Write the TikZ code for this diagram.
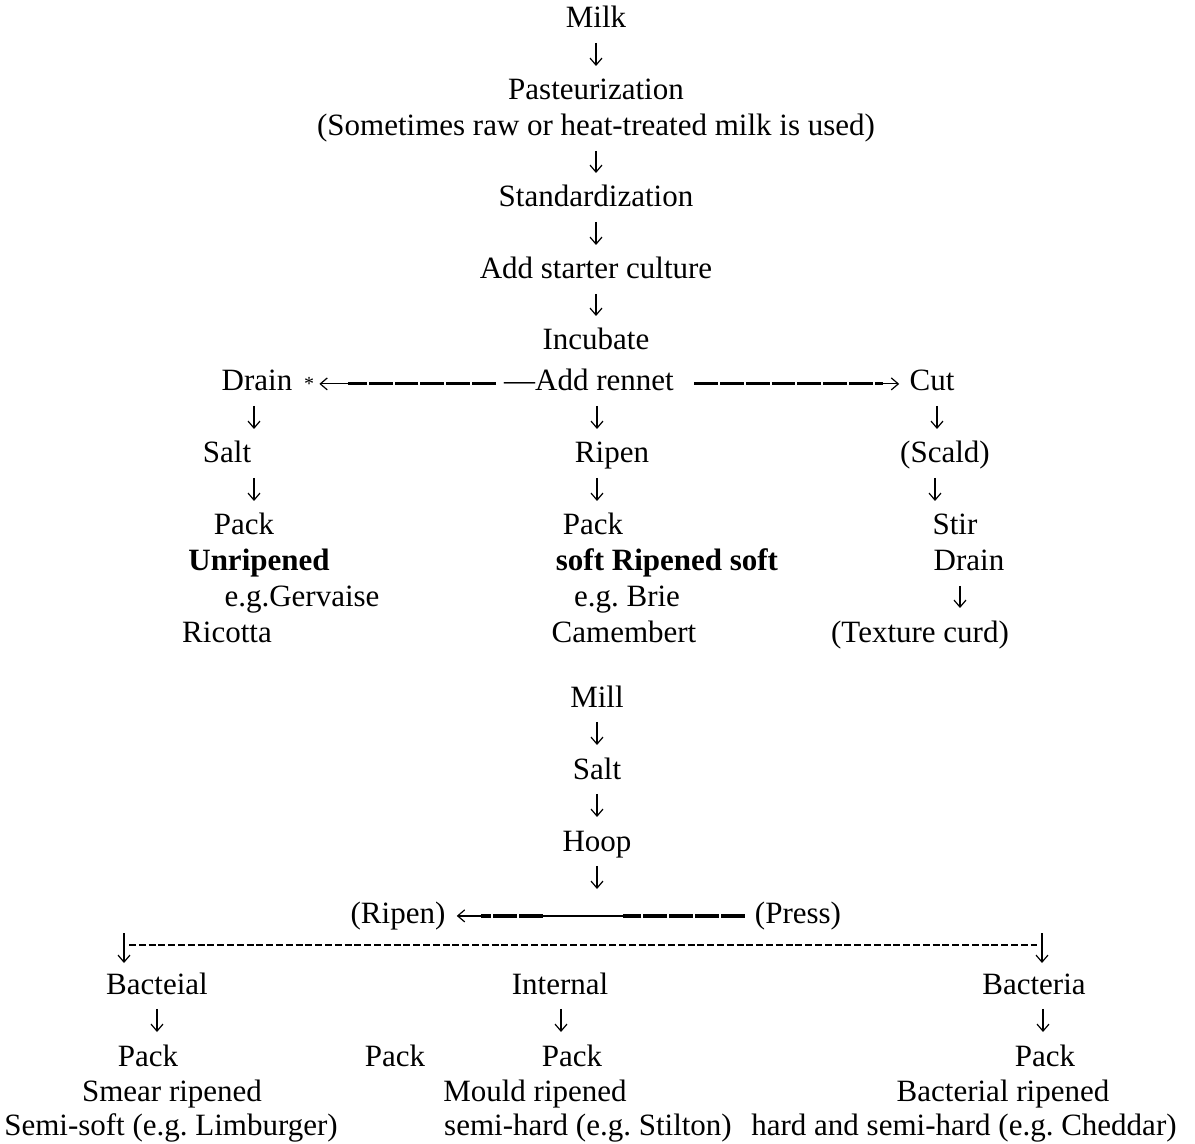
\documentclass[tikz,border=0pt]{standalone}
\usepackage{fontspec}
\setmainfont{Liberation Serif}
\usepackage{tikz}
\usetikzlibrary{arrows.meta,calc}
\frenchspacing

\begin{document}
\begin{tikzpicture}[
    x=0.5pt, y=-0.5pt,
    txt/.style={font=\fontsize{15.5}{18}\selectfont, inner sep=0pt, text height=10.3pt, text depth=3.2pt, anchor=base},
    harr/.style={-{Straight Barb[length=3.5pt,width=6pt]}, line width=0.6pt},
    arr/.style={harr, shorten <=4pt, shorten >=6.5pt},
    heavy/.style={line width=1.6pt, dash pattern=on 11.9pt off 1pt},
    dotline/.style={line width=1.1pt, dash pattern=on 3.5pt off 1.4pt}
]
\useasboundingbox (0,0) rectangle (1195,1144);

% Main line
\node[txt] (milk) at (596,28) {Milk};
\node[txt] (past) at (596,100) {Pasteurization};
\node[txt] (note) at (596,136) {(Sometimes raw or heat-treated milk is used)};
\node[txt] (std) at (596,207) {Standardization};
\node[txt] (starter) at (596,279) {Add starter culture};
\node[txt] (incub) at (596,350) {Incubate};

\draw[arr] (milk) -- (past);
\draw[arr] (note) -- (std);
\draw[arr] (std) -- (starter);
\draw[arr] (starter) -- (incub);

% Rennet split
\node[txt] (drain) at (257,391) {Drain};
\node[txt] (star) at (309,391) {\fontsize{10}{10}\selectfont *};
\node[txt] (rennet) at (589,391) {—Add rennet};
\node[txt] (cut) at (932,391) {Cut};

\coordinate (lstop) at ([xshift=17pt]star.east);
\draw[heavy] ([xshift=-4pt]rennet.west) -- (lstop);
\draw[harr, shorten >=2.5pt] (lstop) -- (star);
\coordinate (rstop) at ([xshift=-13pt]cut.west);
\draw[heavy] ([xshift=10pt]rennet.east) -- (rstop);
\draw[harr, shorten >=5pt] (rstop) -- (cut);

% Unripened branch
\node[txt] (salt1) at (227,463) {Salt};
\node[txt] (pack1) at (244,535) {Pack};
\node[txt, font=\fontsize{15.5}{18}\selectfont\bfseries] (unrip) at (259,571) {Unripened};
\node[txt] (gerv) at (302,607) {e.g.Gervaise};
\node[txt] (ricot) at (227,642) {Ricotta};

\draw[arr] ([xshift=-1.5pt]drain.south) -- ([xshift=-1.5pt]drain.south |- salt1.north);
\draw[arr] ([xshift=13.5pt]salt1.south) -- ([xshift=13.5pt]salt1.south |- pack1.north);

% Ripened soft branch
\node[txt] (ripen1) at (612,463) {Ripen};
\node[txt] (pack2) at (593,535) {Pack};
\node[txt, font=\fontsize{15.5}{18}\selectfont\bfseries] (softrip) at (667,571) {soft Ripened soft};
\node[txt] (brie) at (627,607) {e.g. Brie};
\node[txt] (camem) at (624,642) {Camembert};

\draw[arr] ([xshift=4pt]rennet.south) -- ([xshift=4pt]rennet.south |- ripen1.north);
\draw[arr] ([xshift=-7.5pt]ripen1.south) -- ([xshift=-7.5pt]ripen1.south |- pack2.north);

% Cut branch
\node[txt] (scald) at (945,463) {(Scald)};
\node[txt] (stir) at (955,535) {Stir};
\node[txt] (drain2) at (969,571) {Drain};
\node[txt] (texture) at (920,642) {(Texture curd)};

\draw[arr] ([xshift=2.5pt]cut.south) -- ([xshift=2.5pt]cut.south |- scald.north);
\draw[arr] ([xshift=-5pt]scald.south) -- ([xshift=-5pt]scald.south |- stir.north);
\draw[arr] ([xshift=-4.5pt]drain2.south) -- ([xshift=-4.5pt]drain2.south |- texture.north);

% Curd treatment
\node[txt] (mill) at (597,707) {Mill};
\node[txt] (salt2) at (597,779) {Salt};
\node[txt] (hoop) at (597,851) {Hoop};
\node[txt] (ripen2) at (398,923) {(Ripen)};
\node[txt] (press) at (798,923) {(Press)};

\draw[arr] (mill) -- (salt2);
\draw[arr] (salt2) -- (hoop);
\draw[arr] (hoop.south) -- (hoop.south |- press.north);

\coordinate (p1) at ([xshift=-5pt]press.west);
\coordinate (p2) at ([xshift=-61pt]p1);
\coordinate (p3) at ([xshift=-40pt]p2);
\coordinate (p4) at ([xshift=-31pt]p3);
\draw[heavy] (p1) -- (p2);
\draw[line width=0.6pt] (p2) -- (p3);
\draw[heavy] (p3) -- (p4);
\draw[harr, shorten >=5.5pt] (p4) -- (ripen2);

% Ripening types
\coordinate (dl) at (124,933);
\coordinate (dr) at (1042,933);
\draw[dotline] ([shift={(5,12)}]dl) -- ([shift={(-5,12)}]dr);

\node[txt] (bact1) at (157,994) {Bacteial};
\node[txt] (intern) at (560,994) {Internal};
\node[txt] (bact2) at (1034,994) {Bacteria};

\draw[harr, shorten >=5pt] (dl) -- (dl |- bact1.north);
\draw[harr, shorten >=5pt] (dr) -- (dr |- bact2.north);

\node[txt] (packa) at (148,1066) {Pack};
\node[txt] (packb) at (395,1066) {Pack};
\node[txt] (packc) at (572,1066) {Pack};
\node[txt] (packd) at (1045,1066) {Pack};

\draw[arr] (bact1.south) -- (bact1.south |- packa.north);
\draw[arr] ([xshift=0.5pt]intern.south) -- ([xshift=0.5pt]intern.south |- packc.north);
\draw[arr] ([xshift=4.5pt]bact2.south) -- ([xshift=4.5pt]bact2.south |- packd.north);

\node[txt] (smear) at (172,1101) {Smear ripened};
\node[txt] (mould) at (535,1101) {Mould ripened};
\node[txt] (bactrip) at (1003,1101) {Bacterial ripened};
\node[txt] (semisoft) at (171,1135) {Semi-soft (e.g. Limburger)};
\node[txt] (semihard) at (588,1135) {semi-hard (e.g. Stilton)};
\node[txt] (hard) at (964,1135) {hard and semi-hard (e.g. Cheddar)};

\end{tikzpicture}
\end{document}
